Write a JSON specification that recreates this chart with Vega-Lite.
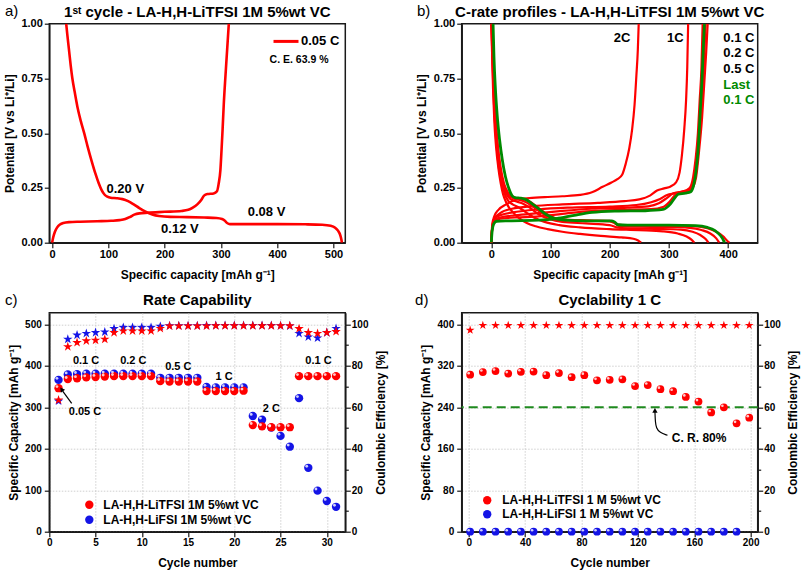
{
"$schema": "https://vega.github.io/schema/vega-lite/v6.json",
"autosize": {"type": "none"},
"padding": {"left": 49.3, "top": 23.7, "right": 753.7, "bottom": 550.3},
"background": "white",
"config": {
  "font": "Liberation Sans",
  "view": {"stroke": "#1a1a1a", "strokeWidth": 1.5},
  "title": {"font": "Liberation Sans", "fontSize": 15, "fontWeight": "bold", "color": "#000000", "anchor": "middle", "frame": "group", "baseline": "alphabetic"},
  "axis": {"labelFont": "Liberation Sans", "labelFontWeight": "bold", "labelColor": "#000000", "titleFont": "Liberation Sans", "titleFontWeight": "bold", "titleFontSize": 12, "titleColor": "#000000", "domainColor": "#1a1a1a", "domainWidth": 1.5, "tickColor": "#1a1a1a", "tickWidth": 1.2, "tickSize": 5, "labelFlush": false, "labelOverlap": false, "grid": false},
  "text": {"font": "Liberation Sans", "fontWeight": "bold", "color": "#000000"},
  "legend": {"labelFont": "Liberation Sans", "labelFontWeight": "bold", "labelColor": "#000000", "padding": 0}
},
"columns": 2,
"spacing": {"row": 70, "column": 116.4},
"bounds": "flush",
"resolve": {"scale": {"color": "independent", "fill": "independent"}, "legend": {"color": "independent"}},
"datasets": {
  "a": [
    {"rate":"0.05 C","branch":"discharge","cap":25,"V":1.0},{"rate":"0.05 C","branch":"discharge","cap":27,"V":0.95},{"rate":"0.05 C","branch":"discharge","cap":30,"V":0.88},{"rate":"0.05 C","branch":"discharge","cap":33,"V":0.81},{"rate":"0.05 C","branch":"discharge","cap":36,"V":0.75},{"rate":"0.05 C","branch":"discharge","cap":40,"V":0.69},{"rate":"0.05 C","branch":"discharge","cap":45,"V":0.62},{"rate":"0.05 C","branch":"discharge","cap":51,"V":0.555},{"rate":"0.05 C","branch":"discharge","cap":57,"V":0.5},{"rate":"0.05 C","branch":"discharge","cap":63,"V":0.44},{"rate":"0.05 C","branch":"discharge","cap":70,"V":0.375},{"rate":"0.05 C","branch":"discharge","cap":77,"V":0.315},{"rate":"0.05 C","branch":"discharge","cap":83,"V":0.27},{"rate":"0.05 C","branch":"discharge","cap":88,"V":0.24},{"rate":"0.05 C","branch":"discharge","cap":93,"V":0.22},{"rate":"0.05 C","branch":"discharge","cap":98,"V":0.21},{"rate":"0.05 C","branch":"discharge","cap":104,"V":0.205},{"rate":"0.05 C","branch":"discharge","cap":115,"V":0.203},{"rate":"0.05 C","branch":"discharge","cap":125,"V":0.199},{"rate":"0.05 C","branch":"discharge","cap":135,"V":0.19},{"rate":"0.05 C","branch":"discharge","cap":145,"V":0.175},{"rate":"0.05 C","branch":"discharge","cap":155,"V":0.158},{"rate":"0.05 C","branch":"discharge","cap":166,"V":0.142},{"rate":"0.05 C","branch":"discharge","cap":178,"V":0.129},{"rate":"0.05 C","branch":"discharge","cap":190,"V":0.122},{"rate":"0.05 C","branch":"discharge","cap":210,"V":0.118},{"rate":"0.05 C","branch":"discharge","cap":240,"V":0.117},{"rate":"0.05 C","branch":"discharge","cap":270,"V":0.115},{"rate":"0.05 C","branch":"discharge","cap":292,"V":0.113},{"rate":"0.05 C","branch":"discharge","cap":302,"V":0.108},{"rate":"0.05 C","branch":"discharge","cap":307,"V":0.1},{"rate":"0.05 C","branch":"discharge","cap":311,"V":0.09},{"rate":"0.05 C","branch":"discharge","cap":316,"V":0.085},{"rate":"0.05 C","branch":"discharge","cap":340,"V":0.085},{"rate":"0.05 C","branch":"discharge","cap":400,"V":0.085},{"rate":"0.05 C","branch":"discharge","cap":450,"V":0.084},{"rate":"0.05 C","branch":"discharge","cap":480,"V":0.082},{"rate":"0.05 C","branch":"discharge","cap":495,"V":0.077},{"rate":"0.05 C","branch":"discharge","cap":503,"V":0.068},{"rate":"0.05 C","branch":"discharge","cap":508,"V":0.055},{"rate":"0.05 C","branch":"discharge","cap":512,"V":0.035},{"rate":"0.05 C","branch":"discharge","cap":514,"V":0.015},{"rate":"0.05 C","branch":"discharge","cap":515,"V":0.0},
    {"rate":"0.05 C","branch":"charge","cap":0,"V":0.0},{"rate":"0.05 C","branch":"charge","cap":2,"V":0.025},{"rate":"0.05 C","branch":"charge","cap":5,"V":0.05},{"rate":"0.05 C","branch":"charge","cap":9,"V":0.07},{"rate":"0.05 C","branch":"charge","cap":14,"V":0.083},{"rate":"0.05 C","branch":"charge","cap":20,"V":0.09},{"rate":"0.05 C","branch":"charge","cap":30,"V":0.094},{"rate":"0.05 C","branch":"charge","cap":50,"V":0.096},{"rate":"0.05 C","branch":"charge","cap":80,"V":0.098},{"rate":"0.05 C","branch":"charge","cap":105,"V":0.1},{"rate":"0.05 C","branch":"charge","cap":120,"V":0.103},{"rate":"0.05 C","branch":"charge","cap":130,"V":0.108},{"rate":"0.05 C","branch":"charge","cap":138,"V":0.117},{"rate":"0.05 C","branch":"charge","cap":146,"V":0.128},{"rate":"0.05 C","branch":"charge","cap":155,"V":0.134},{"rate":"0.05 C","branch":"charge","cap":170,"V":0.137},{"rate":"0.05 C","branch":"charge","cap":200,"V":0.141},{"rate":"0.05 C","branch":"charge","cap":230,"V":0.145},{"rate":"0.05 C","branch":"charge","cap":242,"V":0.15},{"rate":"0.05 C","branch":"charge","cap":250,"V":0.16},{"rate":"0.05 C","branch":"charge","cap":258,"V":0.175},{"rate":"0.05 C","branch":"charge","cap":265,"V":0.195},{"rate":"0.05 C","branch":"charge","cap":270,"V":0.215},{"rate":"0.05 C","branch":"charge","cap":276,"V":0.222},{"rate":"0.05 C","branch":"charge","cap":287,"V":0.225},{"rate":"0.05 C","branch":"charge","cap":293,"V":0.235},{"rate":"0.05 C","branch":"charge","cap":296,"V":0.27},{"rate":"0.05 C","branch":"charge","cap":299,"V":0.33},{"rate":"0.05 C","branch":"charge","cap":301,"V":0.42},{"rate":"0.05 C","branch":"charge","cap":303,"V":0.52},{"rate":"0.05 C","branch":"charge","cap":305,"V":0.63},{"rate":"0.05 C","branch":"charge","cap":308,"V":0.76},{"rate":"0.05 C","branch":"charge","cap":311,"V":0.88},{"rate":"0.05 C","branch":"charge","cap":314,"V":1.0}
  ],
  "b": [
    {"curve":"2C-d","rate":"2 C","cap":0,"V":1.0},{"curve":"2C-d","rate":"2 C","cap":1.5,"V":0.85},{"curve":"2C-d","rate":"2 C","cap":3,"V":0.7},{"curve":"2C-d","rate":"2 C","cap":5,"V":0.56},{"curve":"2C-d","rate":"2 C","cap":8,"V":0.44},{"curve":"2C-d","rate":"2 C","cap":12,"V":0.34},{"curve":"2C-d","rate":"2 C","cap":16,"V":0.27},{"curve":"2C-d","rate":"2 C","cap":20,"V":0.22},{"curve":"2C-d","rate":"2 C","cap":25,"V":0.185},{"curve":"2C-d","rate":"2 C","cap":30,"V":0.16},{"curve":"2C-d","rate":"2 C","cap":38,"V":0.135},{"curve":"2C-d","rate":"2 C","cap":48,"V":0.11},{"curve":"2C-d","rate":"2 C","cap":60,"V":0.09},{"curve":"2C-d","rate":"2 C","cap":75,"V":0.075},{"curve":"2C-d","rate":"2 C","cap":95,"V":0.062},{"curve":"2C-d","rate":"2 C","cap":120,"V":0.05},{"curve":"2C-d","rate":"2 C","cap":150,"V":0.04},{"curve":"2C-d","rate":"2 C","cap":185,"V":0.031},{"curve":"2C-d","rate":"2 C","cap":220,"V":0.024},{"curve":"2C-d","rate":"2 C","cap":240,"V":0.018},{"curve":"2C-d","rate":"2 C","cap":248,"V":0.01},{"curve":"2C-d","rate":"2 C","cap":253,"V":0.0},
    {"curve":"2C-c","rate":"2 C","cap":0,"V":0.0},{"curve":"2C-c","rate":"2 C","cap":1.5,"V":0.08},{"curve":"2C-c","rate":"2 C","cap":5,"V":0.12},{"curve":"2C-c","rate":"2 C","cap":12,"V":0.15},{"curve":"2C-c","rate":"2 C","cap":25,"V":0.175},{"curve":"2C-c","rate":"2 C","cap":40,"V":0.195},{"curve":"2C-c","rate":"2 C","cap":60,"V":0.203},{"curve":"2C-c","rate":"2 C","cap":90,"V":0.208},{"curve":"2C-c","rate":"2 C","cap":120,"V":0.212},{"curve":"2C-c","rate":"2 C","cap":150,"V":0.218},{"curve":"2C-c","rate":"2 C","cap":170,"V":0.23},{"curve":"2C-c","rate":"2 C","cap":188,"V":0.255},{"curve":"2C-c","rate":"2 C","cap":203,"V":0.275},{"curve":"2C-c","rate":"2 C","cap":213,"V":0.29},{"curve":"2C-c","rate":"2 C","cap":221,"V":0.31},{"curve":"2C-c","rate":"2 C","cap":227,"V":0.36},{"curve":"2C-c","rate":"2 C","cap":233,"V":0.43},{"curve":"2C-c","rate":"2 C","cap":238,"V":0.52},{"curve":"2C-c","rate":"2 C","cap":242,"V":0.63},{"curve":"2C-c","rate":"2 C","cap":245,"V":0.76},{"curve":"2C-c","rate":"2 C","cap":247.5,"V":0.88},{"curve":"2C-c","rate":"2 C","cap":249,"V":1.0},
    {"curve":"1C-d","rate":"1 C","cap":0.2,"V":1.0},{"curve":"1C-d","rate":"1 C","cap":1.8,"V":0.85},{"curve":"1C-d","rate":"1 C","cap":3.5,"V":0.7},{"curve":"1C-d","rate":"1 C","cap":6,"V":0.56},{"curve":"1C-d","rate":"1 C","cap":9,"V":0.44},{"curve":"1C-d","rate":"1 C","cap":13,"V":0.34},{"curve":"1C-d","rate":"1 C","cap":18,"V":0.27},{"curve":"1C-d","rate":"1 C","cap":23,"V":0.22},{"curve":"1C-d","rate":"1 C","cap":29,"V":0.19},{"curve":"1C-d","rate":"1 C","cap":36,"V":0.175},{"curve":"1C-d","rate":"1 C","cap":46,"V":0.162},{"curve":"1C-d","rate":"1 C","cap":58,"V":0.14},{"curve":"1C-d","rate":"1 C","cap":72,"V":0.115},{"curve":"1C-d","rate":"1 C","cap":90,"V":0.095},{"curve":"1C-d","rate":"1 C","cap":115,"V":0.08},{"curve":"1C-d","rate":"1 C","cap":150,"V":0.07},{"curve":"1C-d","rate":"1 C","cap":200,"V":0.062},{"curve":"1C-d","rate":"1 C","cap":250,"V":0.057},{"curve":"1C-d","rate":"1 C","cap":290,"V":0.052},{"curve":"1C-d","rate":"1 C","cap":315,"V":0.042},{"curve":"1C-d","rate":"1 C","cap":330,"V":0.028},{"curve":"1C-d","rate":"1 C","cap":338,"V":0.014},{"curve":"1C-d","rate":"1 C","cap":343,"V":0.0},
    {"curve":"1C-c","rate":"1 C","cap":0,"V":0.0},{"curve":"1C-c","rate":"1 C","cap":1.5,"V":0.07},{"curve":"1C-c","rate":"1 C","cap":5,"V":0.11},{"curve":"1C-c","rate":"1 C","cap":15,"V":0.135},{"curve":"1C-c","rate":"1 C","cap":35,"V":0.155},{"curve":"1C-c","rate":"1 C","cap":70,"V":0.167},{"curve":"1C-c","rate":"1 C","cap":120,"V":0.175},{"curve":"1C-c","rate":"1 C","cap":180,"V":0.182},{"curve":"1C-c","rate":"1 C","cap":225,"V":0.19},{"curve":"1C-c","rate":"1 C","cap":250,"V":0.198},{"curve":"1C-c","rate":"1 C","cap":268,"V":0.215},{"curve":"1C-c","rate":"1 C","cap":280,"V":0.238},{"curve":"1C-c","rate":"1 C","cap":292,"V":0.248},{"curve":"1C-c","rate":"1 C","cap":303,"V":0.257},{"curve":"1C-c","rate":"1 C","cap":312,"V":0.275},{"curve":"1C-c","rate":"1 C","cap":318,"V":0.32},{"curve":"1C-c","rate":"1 C","cap":322,"V":0.4},{"curve":"1C-c","rate":"1 C","cap":326,"V":0.52},{"curve":"1C-c","rate":"1 C","cap":329,"V":0.65},{"curve":"1C-c","rate":"1 C","cap":331,"V":0.8},{"curve":"1C-c","rate":"1 C","cap":332.5,"V":1.0},
    {"curve":"05C-d","rate":"0.5 C","cap":0.5,"V":1.0},{"curve":"05C-d","rate":"0.5 C","cap":2,"V":0.85},{"curve":"05C-d","rate":"0.5 C","cap":4,"V":0.7},{"curve":"05C-d","rate":"0.5 C","cap":6.5,"V":0.56},{"curve":"05C-d","rate":"0.5 C","cap":10,"V":0.44},{"curve":"05C-d","rate":"0.5 C","cap":14,"V":0.34},{"curve":"05C-d","rate":"0.5 C","cap":19,"V":0.27},{"curve":"05C-d","rate":"0.5 C","cap":25,"V":0.225},{"curve":"05C-d","rate":"0.5 C","cap":32,"V":0.2},{"curve":"05C-d","rate":"0.5 C","cap":40,"V":0.19},{"curve":"05C-d","rate":"0.5 C","cap":52,"V":0.18},{"curve":"05C-d","rate":"0.5 C","cap":65,"V":0.16},{"curve":"05C-d","rate":"0.5 C","cap":80,"V":0.13},{"curve":"05C-d","rate":"0.5 C","cap":98,"V":0.108},{"curve":"05C-d","rate":"0.5 C","cap":120,"V":0.095},{"curve":"05C-d","rate":"0.5 C","cap":160,"V":0.088},{"curve":"05C-d","rate":"0.5 C","cap":200,"V":0.08},{"curve":"05C-d","rate":"0.5 C","cap":212,"V":0.07},{"curve":"05C-d","rate":"0.5 C","cap":230,"V":0.065},{"curve":"05C-d","rate":"0.5 C","cap":280,"V":0.063},{"curve":"05C-d","rate":"0.5 C","cap":320,"V":0.06},{"curve":"05C-d","rate":"0.5 C","cap":340,"V":0.05},{"curve":"05C-d","rate":"0.5 C","cap":353,"V":0.035},{"curve":"05C-d","rate":"0.5 C","cap":362,"V":0.017},{"curve":"05C-d","rate":"0.5 C","cap":367,"V":0.0},
    {"curve":"05C-c","rate":"0.5 C","cap":0,"V":0.0},{"curve":"05C-c","rate":"0.5 C","cap":1.5,"V":0.065},{"curve":"05C-c","rate":"0.5 C","cap":5,"V":0.105},{"curve":"05C-c","rate":"0.5 C","cap":15,"V":0.125},{"curve":"05C-c","rate":"0.5 C","cap":40,"V":0.14},{"curve":"05C-c","rate":"0.5 C","cap":80,"V":0.152},{"curve":"05C-c","rate":"0.5 C","cap":130,"V":0.16},{"curve":"05C-c","rate":"0.5 C","cap":200,"V":0.165},{"curve":"05C-c","rate":"0.5 C","cap":245,"V":0.172},{"curve":"05C-c","rate":"0.5 C","cap":270,"V":0.185},{"curve":"05C-c","rate":"0.5 C","cap":285,"V":0.2},{"curve":"05C-c","rate":"0.5 C","cap":297,"V":0.218},{"curve":"05C-c","rate":"0.5 C","cap":308,"V":0.225},{"curve":"05C-c","rate":"0.5 C","cap":322,"V":0.232},{"curve":"05C-c","rate":"0.5 C","cap":335,"V":0.25},{"curve":"05C-c","rate":"0.5 C","cap":341,"V":0.3},{"curve":"05C-c","rate":"0.5 C","cap":345,"V":0.38},{"curve":"05C-c","rate":"0.5 C","cap":349,"V":0.5},{"curve":"05C-c","rate":"0.5 C","cap":352,"V":0.65},{"curve":"05C-c","rate":"0.5 C","cap":355,"V":0.8},{"curve":"05C-c","rate":"0.5 C","cap":357,"V":1.0},
    {"curve":"02C-d","rate":"0.2 C","cap":0.8,"V":1.0},{"curve":"02C-d","rate":"0.2 C","cap":2.4,"V":0.85},{"curve":"02C-d","rate":"0.2 C","cap":4.5,"V":0.7},{"curve":"02C-d","rate":"0.2 C","cap":7,"V":0.56},{"curve":"02C-d","rate":"0.2 C","cap":10.5,"V":0.44},{"curve":"02C-d","rate":"0.2 C","cap":15,"V":0.34},{"curve":"02C-d","rate":"0.2 C","cap":20,"V":0.27},{"curve":"02C-d","rate":"0.2 C","cap":26,"V":0.23},{"curve":"02C-d","rate":"0.2 C","cap":33,"V":0.208},{"curve":"02C-d","rate":"0.2 C","cap":42,"V":0.2},{"curve":"02C-d","rate":"0.2 C","cap":54,"V":0.19},{"curve":"02C-d","rate":"0.2 C","cap":66,"V":0.173},{"curve":"02C-d","rate":"0.2 C","cap":80,"V":0.145},{"curve":"02C-d","rate":"0.2 C","cap":95,"V":0.12},{"curve":"02C-d","rate":"0.2 C","cap":115,"V":0.105},{"curve":"02C-d","rate":"0.2 C","cap":160,"V":0.1},{"curve":"02C-d","rate":"0.2 C","cap":200,"V":0.097},{"curve":"02C-d","rate":"0.2 C","cap":208,"V":0.09},{"curve":"02C-d","rate":"0.2 C","cap":215,"V":0.077},{"curve":"02C-d","rate":"0.2 C","cap":240,"V":0.073},{"curve":"02C-d","rate":"0.2 C","cap":300,"V":0.072},{"curve":"02C-d","rate":"0.2 C","cap":335,"V":0.068},{"curve":"02C-d","rate":"0.2 C","cap":355,"V":0.058},{"curve":"02C-d","rate":"0.2 C","cap":370,"V":0.042},{"curve":"02C-d","rate":"0.2 C","cap":380,"V":0.02},{"curve":"02C-d","rate":"0.2 C","cap":385,"V":0.0},
    {"curve":"02C-c","rate":"0.2 C","cap":0,"V":0.0},{"curve":"02C-c","rate":"0.2 C","cap":1.5,"V":0.065},{"curve":"02C-c","rate":"0.2 C","cap":5,"V":0.1},{"curve":"02C-c","rate":"0.2 C","cap":15,"V":0.115},{"curve":"02C-c","rate":"0.2 C","cap":40,"V":0.125},{"curve":"02C-c","rate":"0.2 C","cap":80,"V":0.135},{"curve":"02C-c","rate":"0.2 C","cap":120,"V":0.145},{"curve":"02C-c","rate":"0.2 C","cap":170,"V":0.155},{"curve":"02C-c","rate":"0.2 C","cap":230,"V":0.16},{"curve":"02C-c","rate":"0.2 C","cap":265,"V":0.166},{"curve":"02C-c","rate":"0.2 C","cap":283,"V":0.18},{"curve":"02C-c","rate":"0.2 C","cap":297,"V":0.205},{"curve":"02C-c","rate":"0.2 C","cap":307,"V":0.225},{"curve":"02C-c","rate":"0.2 C","cap":320,"V":0.232},{"curve":"02C-c","rate":"0.2 C","cap":334,"V":0.24},{"curve":"02C-c","rate":"0.2 C","cap":341,"V":0.27},{"curve":"02C-c","rate":"0.2 C","cap":346,"V":0.35},{"curve":"02C-c","rate":"0.2 C","cap":351,"V":0.48},{"curve":"02C-c","rate":"0.2 C","cap":355,"V":0.63},{"curve":"02C-c","rate":"0.2 C","cap":359,"V":0.8},{"curve":"02C-c","rate":"0.2 C","cap":362,"V":1.0},
    {"curve":"01C-d","rate":"0.1 C","cap":1.2,"V":1.0},{"curve":"01C-d","rate":"0.1 C","cap":2.8,"V":0.85},{"curve":"01C-d","rate":"0.1 C","cap":5,"V":0.7},{"curve":"01C-d","rate":"0.1 C","cap":7.6,"V":0.56},{"curve":"01C-d","rate":"0.1 C","cap":11.2,"V":0.44},{"curve":"01C-d","rate":"0.1 C","cap":16,"V":0.34},{"curve":"01C-d","rate":"0.1 C","cap":21.5,"V":0.27},{"curve":"01C-d","rate":"0.1 C","cap":28,"V":0.23},{"curve":"01C-d","rate":"0.1 C","cap":35,"V":0.21},{"curve":"01C-d","rate":"0.1 C","cap":44,"V":0.203},{"curve":"01C-d","rate":"0.1 C","cap":56,"V":0.198},{"curve":"01C-d","rate":"0.1 C","cap":68,"V":0.183},{"curve":"01C-d","rate":"0.1 C","cap":81,"V":0.155},{"curve":"01C-d","rate":"0.1 C","cap":96,"V":0.127},{"curve":"01C-d","rate":"0.1 C","cap":115,"V":0.108},{"curve":"01C-d","rate":"0.1 C","cap":160,"V":0.102},{"curve":"01C-d","rate":"0.1 C","cap":200,"V":0.1},{"curve":"01C-d","rate":"0.1 C","cap":207,"V":0.094},{"curve":"01C-d","rate":"0.1 C","cap":213,"V":0.083},{"curve":"01C-d","rate":"0.1 C","cap":230,"V":0.08},{"curve":"01C-d","rate":"0.1 C","cap":300,"V":0.079},{"curve":"01C-d","rate":"0.1 C","cap":345,"V":0.076},{"curve":"01C-d","rate":"0.1 C","cap":365,"V":0.066},{"curve":"01C-d","rate":"0.1 C","cap":380,"V":0.05},{"curve":"01C-d","rate":"0.1 C","cap":392,"V":0.028},{"curve":"01C-d","rate":"0.1 C","cap":398,"V":0.01},{"curve":"01C-d","rate":"0.1 C","cap":402,"V":0.0},
    {"curve":"01C-c","rate":"0.1 C","cap":0,"V":0.0},{"curve":"01C-c","rate":"0.1 C","cap":1.5,"V":0.06},{"curve":"01C-c","rate":"0.1 C","cap":5,"V":0.095},{"curve":"01C-c","rate":"0.1 C","cap":15,"V":0.11},{"curve":"01C-c","rate":"0.1 C","cap":40,"V":0.115},{"curve":"01C-c","rate":"0.1 C","cap":80,"V":0.12},{"curve":"01C-c","rate":"0.1 C","cap":120,"V":0.132},{"curve":"01C-c","rate":"0.1 C","cap":160,"V":0.143},{"curve":"01C-c","rate":"0.1 C","cap":220,"V":0.15},{"curve":"01C-c","rate":"0.1 C","cap":270,"V":0.153},{"curve":"01C-c","rate":"0.1 C","cap":290,"V":0.163},{"curve":"01C-c","rate":"0.1 C","cap":302,"V":0.19},{"curve":"01C-c","rate":"0.1 C","cap":311,"V":0.22},{"curve":"01C-c","rate":"0.1 C","cap":320,"V":0.23},{"curve":"01C-c","rate":"0.1 C","cap":334,"V":0.235},{"curve":"01C-c","rate":"0.1 C","cap":341,"V":0.255},{"curve":"01C-c","rate":"0.1 C","cap":346,"V":0.3},{"curve":"01C-c","rate":"0.1 C","cap":351,"V":0.42},{"curve":"01C-c","rate":"0.1 C","cap":356,"V":0.57},{"curve":"01C-c","rate":"0.1 C","cap":360,"V":0.74},{"curve":"01C-c","rate":"0.1 C","cap":363,"V":0.87},{"curve":"01C-c","rate":"0.1 C","cap":365.5,"V":1.0},
    {"curve":"L-d","rate":"Last 0.1 C","cap":3,"V":1.0},{"curve":"L-d","rate":"Last 0.1 C","cap":4.5,"V":0.85},{"curve":"L-d","rate":"Last 0.1 C","cap":7,"V":0.7},{"curve":"L-d","rate":"Last 0.1 C","cap":10,"V":0.58},{"curve":"L-d","rate":"Last 0.1 C","cap":14,"V":0.47},{"curve":"L-d","rate":"Last 0.1 C","cap":18.5,"V":0.38},{"curve":"L-d","rate":"Last 0.1 C","cap":24,"V":0.3},{"curve":"L-d","rate":"Last 0.1 C","cap":30,"V":0.245},{"curve":"L-d","rate":"Last 0.1 C","cap":35,"V":0.215},{"curve":"L-d","rate":"Last 0.1 C","cap":40,"V":0.206},{"curve":"L-d","rate":"Last 0.1 C","cap":50,"V":0.203},{"curve":"L-d","rate":"Last 0.1 C","cap":58,"V":0.198},{"curve":"L-d","rate":"Last 0.1 C","cap":68,"V":0.18},{"curve":"L-d","rate":"Last 0.1 C","cap":80,"V":0.155},{"curve":"L-d","rate":"Last 0.1 C","cap":92,"V":0.13},{"curve":"L-d","rate":"Last 0.1 C","cap":105,"V":0.112},{"curve":"L-d","rate":"Last 0.1 C","cap":125,"V":0.103},{"curve":"L-d","rate":"Last 0.1 C","cap":160,"V":0.1},{"curve":"L-d","rate":"Last 0.1 C","cap":203,"V":0.1},{"curve":"L-d","rate":"Last 0.1 C","cap":208,"V":0.095},{"curve":"L-d","rate":"Last 0.1 C","cap":214,"V":0.082},{"curve":"L-d","rate":"Last 0.1 C","cap":230,"V":0.08},{"curve":"L-d","rate":"Last 0.1 C","cap":300,"V":0.08},{"curve":"L-d","rate":"Last 0.1 C","cap":345,"V":0.078},{"curve":"L-d","rate":"Last 0.1 C","cap":365,"V":0.07},{"curve":"L-d","rate":"Last 0.1 C","cap":378,"V":0.055},{"curve":"L-d","rate":"Last 0.1 C","cap":387,"V":0.033},{"curve":"L-d","rate":"Last 0.1 C","cap":392,"V":0.012},{"curve":"L-d","rate":"Last 0.1 C","cap":394,"V":0.0},
    {"curve":"L-c","rate":"Last 0.1 C","cap":0,"V":0.0},{"curve":"L-c","rate":"Last 0.1 C","cap":1.5,"V":0.055},{"curve":"L-c","rate":"Last 0.1 C","cap":4,"V":0.085},{"curve":"L-c","rate":"Last 0.1 C","cap":9,"V":0.098},{"curve":"L-c","rate":"Last 0.1 C","cap":30,"V":0.1},{"curve":"L-c","rate":"Last 0.1 C","cap":80,"V":0.103},{"curve":"L-c","rate":"Last 0.1 C","cap":110,"V":0.11},{"curve":"L-c","rate":"Last 0.1 C","cap":140,"V":0.125},{"curve":"L-c","rate":"Last 0.1 C","cap":170,"V":0.138},{"curve":"L-c","rate":"Last 0.1 C","cap":210,"V":0.144},{"curve":"L-c","rate":"Last 0.1 C","cap":260,"V":0.146},{"curve":"L-c","rate":"Last 0.1 C","cap":290,"V":0.152},{"curve":"L-c","rate":"Last 0.1 C","cap":302,"V":0.175},{"curve":"L-c","rate":"Last 0.1 C","cap":310,"V":0.205},{"curve":"L-c","rate":"Last 0.1 C","cap":316,"V":0.222},{"curve":"L-c","rate":"Last 0.1 C","cap":328,"V":0.226},{"curve":"L-c","rate":"Last 0.1 C","cap":337,"V":0.233},{"curve":"L-c","rate":"Last 0.1 C","cap":342,"V":0.265},{"curve":"L-c","rate":"Last 0.1 C","cap":346,"V":0.33},{"curve":"L-c","rate":"Last 0.1 C","cap":350,"V":0.45},{"curve":"L-c","rate":"Last 0.1 C","cap":353,"V":0.6},{"curve":"L-c","rate":"Last 0.1 C","cap":356,"V":0.75},{"curve":"L-c","rate":"Last 0.1 C","cap":358,"V":0.88},{"curve":"L-c","rate":"Last 0.1 C","cap":360,"V":1.0}
  ],
  "c": [
    {"series":"LA-H,H-LiFSI 1M 5%wt VC","cycle":1,"cap":366,"ce":63},{"series":"LA-H,H-LiFSI 1M 5%wt VC","cycle":2,"cap":379,"ce":92.8},{"series":"LA-H,H-LiFSI 1M 5%wt VC","cycle":3,"cap":380,"ce":94.8},{"series":"LA-H,H-LiFSI 1M 5%wt VC","cycle":4,"cap":381,"ce":95.6},{"series":"LA-H,H-LiFSI 1M 5%wt VC","cycle":5,"cap":381,"ce":96},{"series":"LA-H,H-LiFSI 1M 5%wt VC","cycle":6,"cap":381,"ce":96.3},{"series":"LA-H,H-LiFSI 1M 5%wt VC","cycle":7,"cap":381,"ce":97.9},{"series":"LA-H,H-LiFSI 1M 5%wt VC","cycle":8,"cap":381,"ce":98.5},{"series":"LA-H,H-LiFSI 1M 5%wt VC","cycle":9,"cap":381,"ce":98.5},{"series":"LA-H,H-LiFSI 1M 5%wt VC","cycle":10,"cap":381,"ce":98.5},{"series":"LA-H,H-LiFSI 1M 5%wt VC","cycle":11,"cap":381,"ce":98.5},{"series":"LA-H,H-LiFSI 1M 5%wt VC","cycle":12,"cap":371,"ce":99},{"series":"LA-H,H-LiFSI 1M 5%wt VC","cycle":13,"cap":371,"ce":99.3},{"series":"LA-H,H-LiFSI 1M 5%wt VC","cycle":14,"cap":371,"ce":99.3},{"series":"LA-H,H-LiFSI 1M 5%wt VC","cycle":15,"cap":371,"ce":99.3},{"series":"LA-H,H-LiFSI 1M 5%wt VC","cycle":16,"cap":371,"ce":99.3},{"series":"LA-H,H-LiFSI 1M 5%wt VC","cycle":17,"cap":349,"ce":99.4},{"series":"LA-H,H-LiFSI 1M 5%wt VC","cycle":18,"cap":348,"ce":99.4},{"series":"LA-H,H-LiFSI 1M 5%wt VC","cycle":19,"cap":348,"ce":99.4},{"series":"LA-H,H-LiFSI 1M 5%wt VC","cycle":20,"cap":348,"ce":99.4},{"series":"LA-H,H-LiFSI 1M 5%wt VC","cycle":21,"cap":348,"ce":99.4},{"series":"LA-H,H-LiFSI 1M 5%wt VC","cycle":22,"cap":279,"ce":99.4},{"series":"LA-H,H-LiFSI 1M 5%wt VC","cycle":23,"cap":270,"ce":99.4},{"series":"LA-H,H-LiFSI 1M 5%wt VC","cycle":24,"cap":251,"ce":99.4},{"series":"LA-H,H-LiFSI 1M 5%wt VC","cycle":25,"cap":231,"ce":99.3},{"series":"LA-H,H-LiFSI 1M 5%wt VC","cycle":26,"cap":205,"ce":99.2},{"series":"LA-H,H-LiFSI 1M 5%wt VC","cycle":27,"cap":322,"ce":95.6},{"series":"LA-H,H-LiFSI 1M 5%wt VC","cycle":28,"cap":154,"ce":93.9},{"series":"LA-H,H-LiFSI 1M 5%wt VC","cycle":29,"cap":99,"ce":93.4},{"series":"LA-H,H-LiFSI 1M 5%wt VC","cycle":30,"cap":74,"ce":96},{"series":"LA-H,H-LiFSI 1M 5%wt VC","cycle":31,"cap":60,"ce":98},
    {"series":"LA-H,H-LiTFSI 1M 5%wt VC","cycle":1,"cap":346,"ce":63.5},{"series":"LA-H,H-LiTFSI 1M 5%wt VC","cycle":2,"cap":368,"ce":89.2},{"series":"LA-H,H-LiTFSI 1M 5%wt VC","cycle":3,"cap":370,"ce":91.2},{"series":"LA-H,H-LiTFSI 1M 5%wt VC","cycle":4,"cap":372,"ce":92},{"series":"LA-H,H-LiTFSI 1M 5%wt VC","cycle":5,"cap":373,"ce":92.3},{"series":"LA-H,H-LiTFSI 1M 5%wt VC","cycle":6,"cap":374,"ce":92.8},{"series":"LA-H,H-LiTFSI 1M 5%wt VC","cycle":7,"cap":375,"ce":96},{"series":"LA-H,H-LiTFSI 1M 5%wt VC","cycle":8,"cap":375,"ce":96.8},{"series":"LA-H,H-LiTFSI 1M 5%wt VC","cycle":9,"cap":375,"ce":96.8},{"series":"LA-H,H-LiTFSI 1M 5%wt VC","cycle":10,"cap":375,"ce":96.8},{"series":"LA-H,H-LiTFSI 1M 5%wt VC","cycle":11,"cap":375,"ce":96.8},{"series":"LA-H,H-LiTFSI 1M 5%wt VC","cycle":12,"cap":363,"ce":98},{"series":"LA-H,H-LiTFSI 1M 5%wt VC","cycle":13,"cap":362,"ce":99.2},{"series":"LA-H,H-LiTFSI 1M 5%wt VC","cycle":14,"cap":362,"ce":99.2},{"series":"LA-H,H-LiTFSI 1M 5%wt VC","cycle":15,"cap":362,"ce":99.2},{"series":"LA-H,H-LiTFSI 1M 5%wt VC","cycle":16,"cap":362,"ce":99.2},{"series":"LA-H,H-LiTFSI 1M 5%wt VC","cycle":17,"cap":339,"ce":99.2},{"series":"LA-H,H-LiTFSI 1M 5%wt VC","cycle":18,"cap":339,"ce":99.3},{"series":"LA-H,H-LiTFSI 1M 5%wt VC","cycle":19,"cap":339,"ce":99.3},{"series":"LA-H,H-LiTFSI 1M 5%wt VC","cycle":20,"cap":339,"ce":99.3},{"series":"LA-H,H-LiTFSI 1M 5%wt VC","cycle":21,"cap":340,"ce":99.3},{"series":"LA-H,H-LiTFSI 1M 5%wt VC","cycle":22,"cap":257,"ce":99.3},{"series":"LA-H,H-LiTFSI 1M 5%wt VC","cycle":23,"cap":254,"ce":99.3},{"series":"LA-H,H-LiTFSI 1M 5%wt VC","cycle":24,"cap":252,"ce":99.3},{"series":"LA-H,H-LiTFSI 1M 5%wt VC","cycle":25,"cap":252,"ce":99.3},{"series":"LA-H,H-LiTFSI 1M 5%wt VC","cycle":26,"cap":252,"ce":99.3},{"series":"LA-H,H-LiTFSI 1M 5%wt VC","cycle":27,"cap":375,"ce":97.9},{"series":"LA-H,H-LiTFSI 1M 5%wt VC","cycle":28,"cap":375,"ce":96},{"series":"LA-H,H-LiTFSI 1M 5%wt VC","cycle":29,"cap":375,"ce":95.6},{"series":"LA-H,H-LiTFSI 1M 5%wt VC","cycle":30,"cap":375,"ce":96},{"series":"LA-H,H-LiTFSI 1M 5%wt VC","cycle":31,"cap":375,"ce":96.5}
  ],
  "d": [
    {"series":"LA-H,H-LiFSI 1 M 5%wt VC","cycle":1,"cap":0},{"series":"LA-H,H-LiFSI 1 M 5%wt VC","cycle":10,"cap":0},{"series":"LA-H,H-LiFSI 1 M 5%wt VC","cycle":19,"cap":0},{"series":"LA-H,H-LiFSI 1 M 5%wt VC","cycle":28,"cap":0},{"series":"LA-H,H-LiFSI 1 M 5%wt VC","cycle":37,"cap":0},{"series":"LA-H,H-LiFSI 1 M 5%wt VC","cycle":46,"cap":0},{"series":"LA-H,H-LiFSI 1 M 5%wt VC","cycle":55,"cap":0},{"series":"LA-H,H-LiFSI 1 M 5%wt VC","cycle":64,"cap":0},{"series":"LA-H,H-LiFSI 1 M 5%wt VC","cycle":73,"cap":0},{"series":"LA-H,H-LiFSI 1 M 5%wt VC","cycle":82,"cap":0},{"series":"LA-H,H-LiFSI 1 M 5%wt VC","cycle":91,"cap":0},{"series":"LA-H,H-LiFSI 1 M 5%wt VC","cycle":100,"cap":0},{"series":"LA-H,H-LiFSI 1 M 5%wt VC","cycle":109,"cap":0},{"series":"LA-H,H-LiFSI 1 M 5%wt VC","cycle":118,"cap":0},{"series":"LA-H,H-LiFSI 1 M 5%wt VC","cycle":127,"cap":0},{"series":"LA-H,H-LiFSI 1 M 5%wt VC","cycle":136,"cap":0},{"series":"LA-H,H-LiFSI 1 M 5%wt VC","cycle":145,"cap":0},{"series":"LA-H,H-LiFSI 1 M 5%wt VC","cycle":154,"cap":0},{"series":"LA-H,H-LiFSI 1 M 5%wt VC","cycle":163,"cap":0},{"series":"LA-H,H-LiFSI 1 M 5%wt VC","cycle":172,"cap":0},{"series":"LA-H,H-LiFSI 1 M 5%wt VC","cycle":181,"cap":0},{"series":"LA-H,H-LiFSI 1 M 5%wt VC","cycle":190,"cap":0},
    {"series":"LA-H,H-LiTFSI 1 M 5%wt VC","cycle":1,"cap":303,"ce":97.2},{"series":"LA-H,H-LiTFSI 1 M 5%wt VC","cycle":10,"cap":308,"ce":99.5},{"series":"LA-H,H-LiTFSI 1 M 5%wt VC","cycle":19,"cap":310,"ce":99.5},{"series":"LA-H,H-LiTFSI 1 M 5%wt VC","cycle":28,"cap":305,"ce":99.5},{"series":"LA-H,H-LiTFSI 1 M 5%wt VC","cycle":37,"cap":308.5,"ce":99.5},{"series":"LA-H,H-LiTFSI 1 M 5%wt VC","cycle":46,"cap":309,"ce":99.5},{"series":"LA-H,H-LiTFSI 1 M 5%wt VC","cycle":55,"cap":302,"ce":99.5},{"series":"LA-H,H-LiTFSI 1 M 5%wt VC","cycle":64,"cap":306,"ce":99.5},{"series":"LA-H,H-LiTFSI 1 M 5%wt VC","cycle":73,"cap":298,"ce":99.5},{"series":"LA-H,H-LiTFSI 1 M 5%wt VC","cycle":82,"cap":302,"ce":99.5},{"series":"LA-H,H-LiTFSI 1 M 5%wt VC","cycle":91,"cap":292,"ce":99.5},{"series":"LA-H,H-LiTFSI 1 M 5%wt VC","cycle":100,"cap":293,"ce":99.5},{"series":"LA-H,H-LiTFSI 1 M 5%wt VC","cycle":109,"cap":294,"ce":99.5},{"series":"LA-H,H-LiTFSI 1 M 5%wt VC","cycle":118,"cap":281,"ce":99.5},{"series":"LA-H,H-LiTFSI 1 M 5%wt VC","cycle":127,"cap":283,"ce":99.5},{"series":"LA-H,H-LiTFSI 1 M 5%wt VC","cycle":136,"cap":275,"ce":99.5},{"series":"LA-H,H-LiTFSI 1 M 5%wt VC","cycle":145,"cap":271,"ce":99.5},{"series":"LA-H,H-LiTFSI 1 M 5%wt VC","cycle":154,"cap":260,"ce":99.5},{"series":"LA-H,H-LiTFSI 1 M 5%wt VC","cycle":163,"cap":251,"ce":99.5},{"series":"LA-H,H-LiTFSI 1 M 5%wt VC","cycle":172,"cap":230,"ce":99.5},{"series":"LA-H,H-LiTFSI 1 M 5%wt VC","cycle":181,"cap":240,"ce":99.5},{"series":"LA-H,H-LiTFSI 1 M 5%wt VC","cycle":190,"cap":209,"ce":99.5},{"series":"LA-H,H-LiTFSI 1 M 5%wt VC","cycle":199,"cap":220,"ce":99.5}
  ]
},
"concat": [
  {
    "width": 296, "height": 219,
    "title": {"text": "1ˢᵗ cycle - LA-H,H-LiTFSI 1M 5%wt VC", "offset": -15.5},
    "layer": [
      {
        "data": {"name": "a"},
        "mark": {"type": "line", "strokeWidth": 2.6, "interpolate": "monotone", "clip": true},
        "encoding": {
          "x": {"field": "cap", "type": "quantitative", "scale": {"domain": [-5, 521], "nice": false, "zero": false},
                "axis": {"title": "Specific capacity [mAh g⁻¹]", "values": [0,50,100,150,200,250,300,350,400,450,500], "labelExpr": "datum.value % 100 === 0 ? datum.label : ''", "tickSize": {"condition": {"test": "datum.value % 100 !== 0", "value": 3}, "value": 5}, "labelFontSize": 11, "labelPadding": 1, "minExtent": 17, "maxExtent": 17, "titlePadding": 10}},
          "y": {"field": "V", "type": "quantitative", "scale": {"domain": [0, 1], "nice": false},
                "axis": {"title": "Potential [V vs Li⁺/Li]", "values": [0,0.125,0.25,0.375,0.5,0.625,0.75,0.875,1], "format": ".2f", "labelExpr": "(datum.value * 4) % 1 === 0 ? datum.label : ''", "tickSize": {"condition": {"test": "(datum.value * 4) % 1 !== 0", "value": 3}, "value": 5}, "labelFontSize": 11, "labelPadding": 2, "minExtent": 28, "maxExtent": 28, "titlePadding": 5}},
          "detail": {"field": "branch"},
          "color": {"field": "rate", "type": "nominal", "scale": {"range": ["#ff0000"]},
                    "legend": {"title": null, "orient": "none", "legendX": 222.7, "legendY": 3.7, "symbolType": "stroke", "symbolSize": 625, "symbolStrokeWidth": 3, "labelFontSize": 13, "labelOffset": 1}}
        }
      },
      {
        "data": {"values": [{"x": 130, "y": 0.247, "label": "0.20 V"}, {"x": 227, "y": 0.064, "label": "0.12 V"}, {"x": 381, "y": 0.14, "label": "0.08 V"}]},
        "mark": {"type": "text", "fontSize": 13, "align": "center", "baseline": "middle"},
        "encoding": {"x": {"field": "x", "type": "quantitative"}, "y": {"field": "y", "type": "quantitative"}, "text": {"field": "label"}}
      },
      {
        "data": {"values": [{"x": 438.8, "y": 0.832, "label": "C. E. 63.9 %"}]},
        "mark": {"type": "text", "fontSize": 10.5, "align": "center", "baseline": "middle"},
        "encoding": {"x": {"field": "x", "type": "quantitative"}, "y": {"field": "y", "type": "quantitative"}, "text": {"field": "label"}}
      },
      {
        "data": {"values": [{"x": -83.7, "y": 1.035, "label": "a)"}]},
        "mark": {"type": "text", "fontSize": 15, "fontWeight": "normal", "align": "left", "baseline": "alphabetic"},
        "encoding": {"x": {"field": "x", "type": "quantitative"}, "y": {"field": "y", "type": "quantitative"}, "text": {"field": "label"}}
      }
    ]
  },
  {
    "width": 296, "height": 219,
    "title": {"text": "C-rate profiles - LA-H,H-LiTFSI 1M 5%wt VC", "offset": -15.5},
    "layer": [
      {
        "data": {"name": "b"},
        "transform": [{"filter": "datum.rate !== 'Last 0.1 C'"}],
        "mark": {"type": "line", "strokeWidth": 2.2, "color": "#ff0000", "interpolate": "monotone", "clip": true},
        "encoding": {
          "x": {"field": "cap", "type": "quantitative", "scale": {"domain": [-50, 450], "nice": false, "zero": false},
                "axis": {"title": "Specific capacity [mAh g⁻¹]", "values": [0,50,100,150,200,250,300,350,400], "labelExpr": "datum.value % 100 === 0 ? datum.label : ''", "tickSize": {"condition": {"test": "datum.value % 100 !== 0", "value": 3}, "value": 5}, "labelFontSize": 11, "labelPadding": 1, "minExtent": 17, "maxExtent": 17, "titlePadding": 10}},
          "y": {"field": "V", "type": "quantitative", "scale": {"domain": [0, 1], "nice": false},
                "axis": {"title": "Potential [V vs Li⁺/Li]", "values": [0,0.125,0.25,0.375,0.5,0.625,0.75,0.875,1], "format": ".2f", "labelExpr": "(datum.value * 4) % 1 === 0 ? datum.label : ''", "tickSize": {"condition": {"test": "(datum.value * 4) % 1 !== 0", "value": 3}, "value": 5}, "labelFontSize": 11, "labelPadding": 2, "minExtent": 28, "maxExtent": 28, "titlePadding": 5}},
          "detail": {"field": "curve"}
        }
      },
      {
        "data": {"name": "b"},
        "transform": [{"filter": "datum.rate === 'Last 0.1 C'"}],
        "mark": {"type": "line", "strokeWidth": 2.8, "color": "#008a00", "interpolate": "monotone", "clip": true},
        "encoding": {
          "x": {"field": "cap", "type": "quantitative"},
          "y": {"field": "V", "type": "quantitative"},
          "detail": {"field": "curve"}
        }
      },
      {
        "data": {"values": [{"x": 221, "y": 0.936, "label": "2C"}, {"x": 311, "y": 0.936, "label": "1C"}]},
        "mark": {"type": "text", "fontSize": 13, "align": "center", "baseline": "middle"},
        "encoding": {"x": {"field": "x", "type": "quantitative"}, "y": {"field": "y", "type": "quantitative"}, "text": {"field": "label"}}
      },
      {
        "data": {"values": [{"x": 392, "y": 0.936, "label": "0.1 C"}, {"x": 392, "y": 0.865, "label": "0.2 C"}, {"x": 392, "y": 0.793, "label": "0.5 C"}]},
        "mark": {"type": "text", "fontSize": 13, "align": "left", "baseline": "middle"},
        "encoding": {"x": {"field": "x", "type": "quantitative"}, "y": {"field": "y", "type": "quantitative"}, "text": {"field": "label"}}
      },
      {
        "data": {"values": [{"x": 392, "y": 0.721, "label": "Last"}, {"x": 392, "y": 0.65, "label": "0.1 C"}]},
        "mark": {"type": "text", "fontSize": 13, "align": "left", "baseline": "middle", "color": "#008a00"},
        "encoding": {"x": {"field": "x", "type": "quantitative"}, "y": {"field": "y", "type": "quantitative"}, "text": {"field": "label"}}
      },
      {
        "data": {"values": [{"x": -125.5, "y": 1.035, "label": "b)"}]},
        "mark": {"type": "text", "fontSize": 15, "fontWeight": "normal", "align": "left", "baseline": "alphabetic"},
        "encoding": {"x": {"field": "x", "type": "quantitative"}, "y": {"field": "y", "type": "quantitative"}, "text": {"field": "label"}}
      }
    ]
  },
  {
    "width": 296, "height": 219,
    "title": {"text": "Rate Capability", "offset": -15.5},
    "layer": [
      {
        "layer": [
          {
            "data": {"name": "c"},
            "mark": {"type": "point", "filled": true, "shape": "circle", "size": 70, "opacity": 1},
            "encoding": {
              "x": {"field": "cycle", "type": "quantitative", "scale": {"domain": [0, 32], "nice": false, "zero": false},
                    "axis": {"title": "Cycle number", "values": [0,2.5,5,7.5,10,12.5,15,17.5,20,22.5,25,27.5,30], "labelExpr": "datum.value % 5 === 0 ? datum.label : ''", "tickSize": {"condition": {"test": "datum.value % 5 !== 0", "value": 3}, "value": 5}, "labelFontSize": 10, "labelPadding": 1, "minExtent": 16, "maxExtent": 16, "titlePadding": 10, "grid": true, "gridColor": "#c4c4c4", "gridDash": [1.5, 1.5], "gridWidth": 0.8, "gridOpacity": {"condition": {"test": "datum.value % 5 !== 0", "value": 0}, "value": 1}}},
              "y": {"field": "cap", "type": "quantitative", "scale": {"domain": [0, 528], "nice": false},
                    "axis": {"title": "Specific Capacity [mAh g⁻¹]", "orient": "left", "values": [0,50,100,150,200,250,300,350,400,450,500], "labelExpr": "datum.value % 100 === 0 ? datum.label : ''", "tickSize": {"condition": {"test": "datum.value % 100 !== 0", "value": 3}, "value": 5}, "labelFontSize": 10, "labelPadding": 3, "minExtent": 26, "maxExtent": 26, "titlePadding": 3, "grid": true, "gridColor": "#c4c4c4", "gridDash": [1.5, 1.5], "gridWidth": 0.8, "gridOpacity": {"condition": {"test": "datum.value % 100 !== 0", "value": 0}, "value": 1}}},
              "color": {"field": "series", "type": "nominal", "scale": {"domain": ["LA-H,H-LiTFSI 1M 5%wt VC", "LA-H,H-LiFSI 1M 5%wt VC"], "range": ["#ff0000", "#1414e6"]},
                        "legend": {"title": null, "orient": "none", "legendX": 34, "legendY": 186, "symbolType": "circle", "symbolSize": 70, "labelFontSize": 12, "rowPadding": 3, "labelOffset": 8}}
            }
          },
          {
            "data": {"name": "c"},
            "mark": {"type": "point", "filled": true, "shape": "circle", "size": 8, "color": "white", "opacity": 0.8, "xOffset": -1.6, "yOffset": -1.6},
            "encoding": {"x": {"field": "cycle", "type": "quantitative"}, "y": {"field": "cap", "type": "quantitative"}}
          },
          {
            "data": {"values": [{"x": 3.97, "y": 411, "label": "0.1 C"}, {"x": 9.08, "y": 411, "label": "0.2 C"}, {"x": 13.95, "y": 396, "label": "0.5 C"}, {"x": 18.9, "y": 374, "label": "1 C"}, {"x": 24.0, "y": 295, "label": "2 C"}, {"x": 29.1, "y": 411, "label": "0.1 C"}, {"x": 3.86, "y": 289, "label": "0.05 C"}]},
            "mark": {"type": "text", "fontSize": 11, "align": "center", "baseline": "middle"},
            "encoding": {"x": {"field": "x", "type": "quantitative"}, "y": {"field": "y", "type": "quantitative"}, "text": {"field": "label"}}
          },
          {
            "data": {"values": [{"x": 1.45, "y": 339}, {"x": 2.42, "y": 309.6}]},
            "mark": {"type": "line", "color": "#000000", "strokeWidth": 1.2},
            "encoding": {"x": {"field": "x", "type": "quantitative"}, "y": {"field": "y", "type": "quantitative"}}
          },
          {
            "data": {"values": [{"x": 1.33, "y": 343}]},
            "mark": {"type": "point", "shape": "triangle-up", "filled": true, "color": "#000000", "size": 28, "angle": -36, "opacity": 1},
            "encoding": {"x": {"field": "x", "type": "quantitative"}, "y": {"field": "y", "type": "quantitative"}}
          },
          {
            "data": {"values": [{"x": -4.79, "y": 546.6, "label": "c)"}]},
            "mark": {"type": "text", "fontSize": 15, "fontWeight": "normal", "align": "left", "baseline": "alphabetic"},
            "encoding": {"x": {"field": "x", "type": "quantitative"}, "y": {"field": "y", "type": "quantitative"}, "text": {"field": "label"}}
          }
        ]
      },
      {
        "data": {"name": "c"},
        "mark": {"type": "point", "filled": true, "size": 100, "opacity": 1, "shape": "M0,-1L0.225,-0.31L0.951,-0.309L0.363,0.118L0.588,0.809L0,0.382L-0.588,0.809L-0.363,0.118L-0.951,-0.309L-0.225,-0.31Z"},
        "encoding": {
          "x": {"field": "cycle", "type": "quantitative"},
          "y": {"field": "ce", "type": "quantitative", "scale": {"domain": [0, 105.6], "nice": false},
                "axis": {"title": "Coulombic Efficiency [%]", "orient": "right", "values": [0,10,20,30,40,50,60,70,80,90,100], "labelExpr": "datum.value % 20 === 0 ? datum.label : ''", "tickSize": {"condition": {"test": "datum.value % 20 !== 0", "value": 3}, "value": 5}, "labelFontSize": 10, "labelPadding": 1, "minExtent": 22, "maxExtent": 22, "titlePadding": 8, "titleAngle": 270, "titleBaseline": "top"}},
          "fill": {"field": "series", "type": "nominal", "scale": {"domain": ["LA-H,H-LiTFSI 1M 5%wt VC", "LA-H,H-LiFSI 1M 5%wt VC"], "range": ["#ff0000", "#1414e6"]}, "legend": null}
        }
      }
    ],
    "resolve": {"scale": {"y": "independent"}}
  },
  {
    "width": 296, "height": 219,
    "title": {"text": "Cyclability 1 C", "offset": -15.5},
    "layer": [
      {
        "layer": [
          {
            "data": {"values": [{"retention": 240}]},
            "mark": {"type": "rule", "color": "#1f8a1f", "strokeWidth": 2, "strokeDash": [9, 5]},
            "encoding": {"y": {"field": "retention", "type": "quantitative"}}
          },
          {
            "data": {"name": "d"},
            "mark": {"type": "point", "filled": true, "shape": "circle", "size": 60, "opacity": 1},
            "encoding": {
              "x": {"field": "cycle", "type": "quantitative", "scale": {"domain": [-5, 205], "nice": false, "zero": false},
                    "axis": {"title": "Cycle number", "values": [0,10,20,30,40,50,60,70,80,90,100,110,120,130,140,150,160,170,180,190,200], "labelExpr": "datum.value % 20 === 0 ? datum.label : ''", "tickSize": {"condition": {"test": "datum.value % 20 !== 0", "value": 3}, "value": 5}, "labelFontSize": 10, "labelPadding": 1, "minExtent": 16, "maxExtent": 16, "titlePadding": 10, "grid": true, "gridColor": "#c4c4c4", "gridDash": [1.5, 1.5], "gridWidth": 0.8, "gridOpacity": {"condition": {"test": "datum.value % 20 !== 0", "value": 0}, "value": 1}}},
              "y": {"field": "cap", "type": "quantitative", "scale": {"domain": [0, 422.5], "nice": false},
                    "axis": {"title": "Specific Capacity [mAh g⁻¹]", "orient": "left", "values": [0,40,80,120,160,200,240,280,320,360,400], "labelExpr": "datum.value % 80 === 0 ? datum.label : ''", "tickSize": {"condition": {"test": "datum.value % 80 !== 0", "value": 3}, "value": 5}, "labelFontSize": 10, "labelPadding": 3, "minExtent": 26, "maxExtent": 26, "titlePadding": 3, "grid": true, "gridColor": "#c4c4c4", "gridDash": [1.5, 1.5], "gridWidth": 0.8, "gridOpacity": {"condition": {"test": "datum.value % 80 !== 0", "value": 0}, "value": 1}}},
              "color": {"field": "series", "type": "nominal", "scale": {"domain": ["LA-H,H-LiTFSI 1 M 5%wt VC", "LA-H,H-LiFSI 1 M 5%wt VC"], "range": ["#ff0000", "#1414e6"]},
                        "legend": {"title": null, "orient": "none", "legendX": 19.5, "legendY": 181.5, "symbolType": "circle", "symbolSize": 70, "labelFontSize": 12, "rowPadding": 2, "labelOffset": 9}}
            }
          },
          {
            "data": {"name": "d"},
            "mark": {"type": "point", "filled": true, "shape": "circle", "size": 7, "color": "white", "opacity": 0.8, "xOffset": -1.5, "yOffset": -1.5},
            "encoding": {"x": {"field": "cycle", "type": "quantitative"}, "y": {"field": "cap", "type": "quantitative"}}
          },
          {
            "data": {"values": [{"x": 163.4, "y": 180.2, "label": "C. R. 80%"}]},
            "mark": {"type": "text", "fontSize": 12, "align": "center", "baseline": "middle"},
            "encoding": {"x": {"field": "x", "type": "quantitative"}, "y": {"field": "y", "type": "quantitative"}, "text": {"field": "label"}}
          },
          {
            "data": {"values": [{"x": 141, "y": 186}, {"x": 135.5, "y": 191}, {"x": 133, "y": 200}, {"x": 132.4, "y": 212}, {"x": 132.2, "y": 224}, {"x": 132.1, "y": 231}]},
            "mark": {"type": "line", "color": "#000000", "strokeWidth": 1.2, "interpolate": "basis"},
            "encoding": {"x": {"field": "x", "type": "quantitative"}, "y": {"field": "y", "type": "quantitative"}}
          },
          {
            "data": {"values": [{"x": 132.1, "y": 234}]},
            "mark": {"type": "point", "shape": "triangle-up", "filled": true, "color": "#000000", "size": 28, "opacity": 1},
            "encoding": {"x": {"field": "x", "type": "quantitative"}, "y": {"field": "y", "type": "quantitative"}}
          },
          {
            "data": {"values": [{"x": -38.1, "y": 437.4, "label": "d)"}]},
            "mark": {"type": "text", "fontSize": 15, "fontWeight": "normal", "align": "left", "baseline": "alphabetic"},
            "encoding": {"x": {"field": "x", "type": "quantitative"}, "y": {"field": "y", "type": "quantitative"}, "text": {"field": "label"}}
          }
        ]
      },
      {
        "data": {"name": "d"},
        "mark": {"type": "point", "filled": true, "size": 85, "opacity": 1, "shape": "M0,-1L0.225,-0.31L0.951,-0.309L0.363,0.118L0.588,0.809L0,0.382L-0.588,0.809L-0.363,0.118L-0.951,-0.309L-0.225,-0.31Z"},
        "encoding": {
          "x": {"field": "cycle", "type": "quantitative"},
          "y": {"field": "ce", "type": "quantitative", "scale": {"domain": [0, 105.6], "nice": false},
                "axis": {"title": "Coulombic Efficiency [%]", "orient": "right", "values": [0,10,20,30,40,50,60,70,80,90,100], "labelExpr": "datum.value % 20 === 0 ? datum.label : ''", "tickSize": {"condition": {"test": "datum.value % 20 !== 0", "value": 3}, "value": 5}, "labelFontSize": 10, "labelPadding": 1, "minExtent": 22, "maxExtent": 22, "titlePadding": 8, "titleAngle": 270, "titleBaseline": "top"}},
          "fill": {"field": "series", "type": "nominal", "scale": {"domain": ["LA-H,H-LiTFSI 1 M 5%wt VC", "LA-H,H-LiFSI 1 M 5%wt VC"], "range": ["#ff0000", "#1414e6"]}, "legend": null}
        }
      }
    ],
    "resolve": {"scale": {"y": "independent"}}
  }
]
}
